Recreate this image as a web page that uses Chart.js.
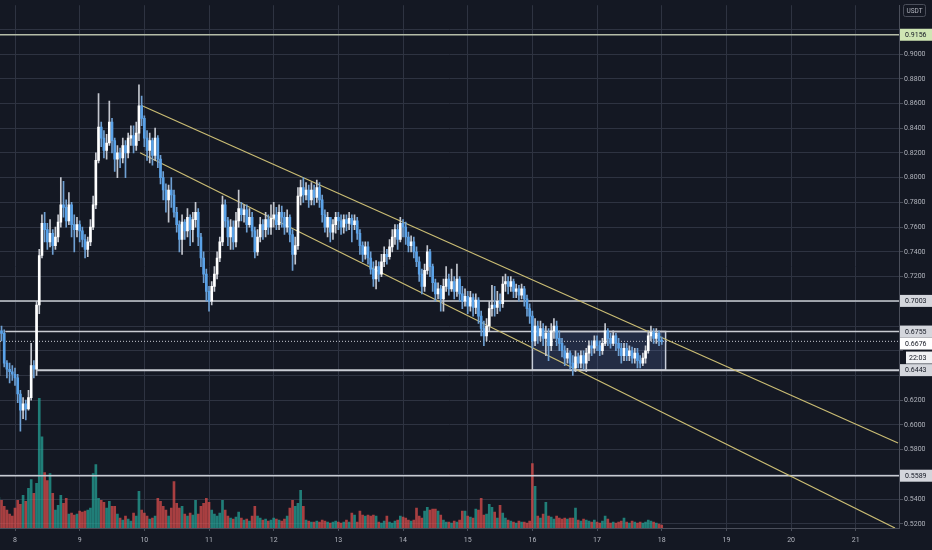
<!DOCTYPE html>
<html>
<head>
<meta charset="utf-8">
<script src="https://cdn.jsdelivr.net/npm/chart.js@4.4.1/dist/chart.umd.min.js"></script>
<style>
  html, body { margin: 0; padding: 0; background: #141823; }
  #wrap { width: 932px; height: 550px; position: relative; }
</style>
</head>
<body>
<div id="wrap"><canvas id="chart"></canvas></div>
<script>
// hourly candles, first one at day 7 18:00 (x axis = day of month)
const firstCandleDay = 7.75;
const firstOpen = 0.640;

const closes = [
  0.676,0.674,0.650,0.645,0.643,0.641,0.638,0.625,0.612,0.617,
  0.613,0.622,0.648,0.645,0.697,0.737,0.763,0.758,0.748,0.755,
  0.745,0.752,0.764,0.778,0.776,0.765,0.778,0.762,0.758,0.762,
  0.757,0.750,0.742,0.748,0.760,0.778,0.814,0.841,0.832,0.822,
  0.828,0.845,0.830,0.815,0.820,0.816,0.826,0.820,0.832,0.834,
  0.826,0.836,0.858,0.848,0.832,0.822,0.830,0.818,0.832,0.815,
  0.800,0.790,0.782,0.790,0.786,0.772,0.762,0.750,0.764,0.757,
  0.768,0.758,0.766,0.772,0.752,0.735,0.722,0.708,0.700,0.712,
  0.722,0.735,0.748,0.778,0.765,0.752,0.760,0.748,0.765,0.775,
  0.770,0.774,0.762,0.768,0.757,0.740,0.752,0.762,0.758,0.766,
  0.760,0.767,0.770,0.762,0.772,0.768,0.760,0.768,0.754,0.738,
  0.745,0.785,0.792,0.786,0.790,0.782,0.790,0.784,0.792,0.782,
  0.770,0.760,0.768,0.756,0.762,0.768,0.765,0.760,0.766,0.763,
  0.767,0.762,0.765,0.755,0.745,0.738,0.744,0.735,0.726,0.718,
  0.728,0.722,0.732,0.738,0.736,0.744,0.752,0.758,0.750,0.763,
  0.760,0.752,0.745,0.748,0.740,0.732,0.722,0.712,0.725,0.740,
  0.728,0.715,0.706,0.710,0.702,0.712,0.718,0.710,0.716,0.708,
  0.718,0.706,0.700,0.704,0.696,0.703,0.695,0.701,0.688,0.678,
  0.672,0.680,0.694,0.697,0.695,0.700,0.698,0.714,0.716,0.712,
  0.716,0.708,0.710,0.705,0.710,0.702,0.694,0.688,0.668,0.680,
  0.672,0.678,0.670,0.674,0.664,0.676,0.680,0.670,0.666,0.660,
  0.654,0.658,0.650,0.646,0.655,0.650,0.656,0.650,0.658,0.664,
  0.662,0.668,0.664,0.660,0.666,0.676,0.670,0.666,0.672,0.666,
  0.662,0.656,0.662,0.656,0.660,0.654,0.658,0.652,0.650,0.654,
  0.660,0.672,0.675,0.670,0.674,0.668,0.6676
];
const highs = [
  0.684,0.680,0.677,0.652,0.650,0.648,0.646,0.641,0.628,0.622,
  0.620,0.628,0.666,0.652,0.700,0.742,0.770,0.772,0.763,0.766,
  0.758,0.760,0.770,0.800,0.797,0.782,0.788,0.780,0.770,0.768,
  0.765,0.760,0.754,0.752,0.766,0.785,0.820,0.868,0.845,0.838,
  0.835,0.862,0.848,0.832,0.826,0.824,0.832,0.830,0.836,0.842,
  0.842,0.845,0.875,0.866,0.850,0.838,0.836,0.832,0.840,0.834,
  0.818,0.805,0.795,0.794,0.800,0.790,0.776,0.765,0.770,0.766,
  0.775,0.770,0.772,0.780,0.775,0.755,0.740,0.726,0.712,0.716,
  0.728,0.740,0.752,0.785,0.782,0.768,0.766,0.765,0.772,0.790,
  0.780,0.778,0.778,0.775,0.772,0.760,0.758,0.768,0.766,0.772,
  0.770,0.778,0.780,0.776,0.778,0.777,0.772,0.774,0.770,0.758,
  0.752,0.792,0.798,0.800,0.796,0.794,0.796,0.794,0.798,0.796,
  0.786,0.774,0.772,0.768,0.766,0.772,0.772,0.770,0.770,0.770,
  0.772,0.770,0.770,0.768,0.758,0.748,0.748,0.748,0.740,0.732,
  0.733,0.732,0.738,0.744,0.742,0.750,0.758,0.762,0.762,0.768,
  0.766,0.764,0.756,0.753,0.752,0.744,0.736,0.726,0.730,0.745,
  0.742,0.730,0.718,0.715,0.713,0.718,0.728,0.722,0.726,0.720,
  0.730,0.720,0.712,0.710,0.708,0.708,0.706,0.706,0.703,0.692,
  0.684,0.686,0.700,0.713,0.712,0.708,0.706,0.720,0.722,0.720,
  0.720,0.718,0.714,0.713,0.714,0.712,0.705,0.698,0.692,0.686,
  0.684,0.684,0.682,0.680,0.678,0.682,0.686,0.684,0.676,0.670,
  0.664,0.662,0.660,0.656,0.660,0.658,0.660,0.660,0.662,0.668,
  0.668,0.672,0.672,0.668,0.670,0.682,0.678,0.674,0.676,0.674,
  0.670,0.666,0.666,0.666,0.664,0.663,0.662,0.662,0.656,0.658,
  0.664,0.676,0.680,0.678,0.678,0.676,0.671
];
const lows = [
  0.630,0.668,0.647,0.638,0.634,0.636,0.632,0.618,0.595,0.605,
  0.604,0.612,0.620,0.638,0.640,0.690,0.735,0.748,0.742,0.744,
  0.738,0.742,0.748,0.760,0.768,0.760,0.762,0.752,0.740,0.752,
  0.748,0.744,0.735,0.736,0.745,0.758,0.775,0.812,0.825,0.816,
  0.815,0.826,0.820,0.805,0.800,0.808,0.812,0.800,0.816,0.826,
  0.820,0.822,0.830,0.842,0.825,0.814,0.812,0.810,0.814,0.808,
  0.795,0.782,0.772,0.764,0.776,0.768,0.756,0.740,0.738,0.750,
  0.752,0.745,0.748,0.760,0.745,0.728,0.715,0.700,0.692,0.697,
  0.708,0.718,0.732,0.745,0.760,0.745,0.742,0.742,0.744,0.760,
  0.765,0.764,0.756,0.760,0.752,0.735,0.737,0.748,0.750,0.752,
  0.754,0.754,0.760,0.758,0.758,0.760,0.754,0.756,0.748,0.725,
  0.730,0.742,0.778,0.780,0.782,0.776,0.778,0.778,0.780,0.776,
  0.764,0.756,0.752,0.748,0.750,0.755,0.758,0.754,0.755,0.757,
  0.758,0.748,0.758,0.750,0.738,0.732,0.734,0.730,0.722,0.712,
  0.710,0.716,0.720,0.728,0.730,0.734,0.740,0.746,0.742,0.748,
  0.752,0.746,0.740,0.740,0.735,0.728,0.716,0.706,0.708,0.722,
  0.720,0.708,0.700,0.702,0.692,0.692,0.708,0.705,0.708,0.702,
  0.704,0.700,0.694,0.696,0.690,0.692,0.688,0.690,0.682,0.672,
  0.664,0.668,0.676,0.688,0.688,0.690,0.692,0.695,0.708,0.706,
  0.708,0.703,0.703,0.700,0.702,0.696,0.688,0.682,0.662,0.664,
  0.666,0.668,0.664,0.656,0.652,0.660,0.670,0.664,0.660,0.655,
  0.648,0.650,0.645,0.640,0.643,0.646,0.646,0.645,0.643,0.652,
  0.656,0.658,0.660,0.656,0.657,0.664,0.664,0.662,0.664,0.660,
  0.656,0.650,0.652,0.652,0.652,0.650,0.650,0.646,0.646,0.648,
  0.650,0.658,0.668,0.666,0.666,0.664,0.665
];
// volume, thousands
const volumes = [
  31,28,22,18,14,12,20,28,24,33, 27,40,49,35,45,131,92,56,48,55,
  35,18,23,33,25,30,14,15,13,14, 17,16,17,18,20,55,64,30,28,26,
  20,27,22,22,14,10,8,12,9,7, 15,12,37,18,15,12,9,10,12,30,
  27,22,18,12,20,47,25,20,22,14, 12,15,13,28,14,22,25,30,26,18,
  14,12,15,28,18,12,10,9,11,16, 10,8,9,7,12,22,12,10,8,9,
  7,8,10,9,8,7,9,12,20,28, 22,25,38,22,8,7,6,6,7,6,
  8,7,6,5,6,7,6,5,6,8, 6,15,13,6,17,13,12,13,12,13,
  12,6,5,7,12,6,5,7,8,12, 11,10,8,7,8,20,12,10,17,21,
  18,19,19,17,13,8,6,6,5,7, 6,8,17,17,12,11,10,19,18,30,
  13,14,24,21,16,10,23,15,10,8, 7,6,5,7,6,6,5,7,65,42,
  12,10,14,26,12,11,9,12,10,9, 10,9,10,10,20,8,7,9,8,7,
  6,8,6,5,7,12,9,5,6,5, 6,7,10,6,5,7,6,5,6,5,
  6,8,7,6,5,4,3
];

// drawn levels and lines
const levelPrices = [0.9156, 0.7003, 0.6755, 0.6443, 0.5589];
const levelStartDays = [7.768, 7.768, 7.85, 8.34, 7.768];
const upperTrend = [{x: 9.948, y: 0.8586}, {x: 21.654, y: 0.5854}];
const lowerTrend = [{x: 9.933, y: 0.8201}, {x: 21.607, y: 0.5166}];
const rangeBox = {from: 16.0, to: 18.06, top: 0.6755, bottom: 0.6443};
const countdown = '22:03';

const xMin = 7.768, xMax = 21.669;
const yMin = 0.5166, yMax = 0.9395;
const volMax = 528;

const opens = [firstOpen, ...closes.slice(0, -1)];
const times = closes.map((_, i) => firstCandleDay + i / 24);
const lastPrice = closes[closes.length - 1];
const isUp = i => closes[i] >= opens[i];

const FONT = 'Roboto, "Open Sans", sans-serif';
const TXT = '#b2b5be';
const GRID = '#2e3341';

const bodies = closes.map((c, i) => ({x: times[i], y: [opens[i], c]}));
const wicks = closes.map((c, i) => ({x: times[i], y: [Math.min(lows[i], opens[i], c), Math.max(highs[i], opens[i], c)]}));
const volBars = volumes.map((v, i) => ({x: times[i], y: v}));

const levelSets = levelPrices.map((p, k) => ({
  type: 'line',
  data: [{x: levelStartDays[k], y: p}, {x: 22, y: p}],
  borderColor: k === 0 ? '#b6bda8' : '#c9ccd3',
  borderWidth: k === 3 ? 2 : 1.5,
  pointRadius: 0, order: 5
}));

const bgPlugin = {
  id: 'bg',
  beforeDraw(chart) {
    const c = chart.ctx;
    c.save();
    c.fillStyle = '#141823';
    c.fillRect(0, 0, chart.width, chart.height);
    c.restore();
  }
};

const labelPlugin = {
  id: 'priceLabels',
  afterDraw(chart) {
    const {ctx, chartArea} = chart;
    const ys = chart.scales.y;
    const x0 = chartArea.right + 1;
    const w = chart.width - x0;
    const h = 12;
    const boxes = levelPrices.map((p, k) => ({
      text: p.toFixed(4), y: ys.getPixelForValue(p),
      bg: k === 0 ? '#cfe6b4' : '#d4d6dc'
    }));
    boxes.push({text: lastPrice.toFixed(4), y: ys.getPixelForValue(lastPrice), bg: '#ffffff', timer: true});
    boxes.sort((a, b) => a.y - b.y);
    let prevBottom = -100;
    ctx.save();
    ctx.font = '7px ' + FONT;
    ctx.textBaseline = 'middle';
    boxes.forEach(b => {
      if (b.y - h / 2 < prevBottom) b.y = prevBottom + h / 2;
      ctx.fillStyle = b.bg;
      ctx.fillRect(x0, b.y - h / 2, w, h);
      ctx.fillStyle = '#131722';
      ctx.fillText(b.text, x0 + 5, b.y + 0.5);
      prevBottom = b.y + h / 2;
      if (b.timer) {
        const ty = prevBottom + 2;
        ctx.fillStyle = '#f0f1f4';
        ctx.fillRect(x0 + 6, ty, w - 6, h);
        ctx.fillStyle = '#131722';
        ctx.fillText(countdown, x0 + 9, ty + h / 2 + 0.5);
        prevBottom = ty + h;
      }
    });
    // currency tag
    ctx.strokeStyle = '#4a4e5a';
    ctx.lineWidth = 1;
    ctx.beginPath();
    ctx.roundRect(903.5, 4.5, 22, 12, 2);
    ctx.stroke();
    ctx.fillStyle = TXT;
    ctx.font = '6.5px ' + FONT;
    ctx.textAlign = 'center';
    ctx.fillText('USDT', 914.5, 11);
    ctx.restore();
  }
};

const hiddenNear = [...levelPrices, lastPrice];

new Chart(document.getElementById('chart'), {
  type: 'bar',
  data: {
    datasets: [
      {
        label: 'body', data: bodies, order: 0, grouped: false,
        barThickness: 2, minBarLength: 1, borderWidth: 0,
        backgroundColor: ctx => isUp(ctx.dataIndex) ? '#ffffff' : '#5aa2e8'
      },
      {
        label: 'wick', data: wicks, order: 1, grouped: false,
        barThickness: 1, borderWidth: 0,
        backgroundColor: ctx => isUp(ctx.dataIndex) ? '#c4c7cf' : '#6e9fd2'
      },
      {type: 'line', data: upperTrend, borderColor: '#cbbd74', borderWidth: 1.2, pointRadius: 0, order: 2},
      {type: 'line', data: lowerTrend, borderColor: '#cbbd74', borderWidth: 1.2, pointRadius: 0, order: 2},
      {
        type: 'line', data: [{x: xMin, y: lastPrice}, {x: 22, y: lastPrice}],
        borderColor: '#c9ccd3', borderWidth: 1, borderDash: [1, 2], pointRadius: 0, order: 3
      },
      ...levelSets,
      {
        type: 'line',
        data: [{x: rangeBox.from, y: rangeBox.top}, {x: rangeBox.to, y: rangeBox.top}],
        borderWidth: 0, pointRadius: 0, order: 7,
        fill: {value: rangeBox.bottom}, backgroundColor: 'rgba(110,150,230,0.17)'
      },
      {
        type: 'line',
        data: [
          {x: rangeBox.from, y: rangeBox.top}, {x: rangeBox.to, y: rangeBox.top},
          {x: rangeBox.to, y: rangeBox.bottom}, {x: rangeBox.from, y: rangeBox.bottom},
          {x: rangeBox.from, y: rangeBox.top}
        ],
        borderColor: '#c6ccd8', borderWidth: 1.5, pointRadius: 0, order: 6
      },
      {
        label: 'volume', data: volBars, yAxisID: 'v', order: 8, grouped: false,
        barThickness: 2, borderWidth: 0,
        backgroundColor: ctx => isUp(ctx.dataIndex) ? 'rgba(38,166,154,0.72)' : 'rgba(239,83,80,0.68)'
      }
    ]
  },
  options: {
    responsive: true,
    maintainAspectRatio: false,
    animation: false,
    events: [],
    layout: {padding: 0},
    plugins: {legend: {display: false}, tooltip: {enabled: false}},
    scales: {
      x: {
        type: 'linear', min: xMin, max: xMax, offset: false,
        grid: {color: GRID, offset: false, drawTicks: true, tickLength: 3, tickColor: '#4a4e5a'},
        border: {color: '#4a4e5a'},
        ticks: {
          stepSize: 1, includeBounds: false, autoSkip: false, maxRotation: 0,
          color: TXT, font: {family: FONT, size: 7}, padding: 5,
          callback: v => String(v)
        },
        afterFit: s => { s.height = 22; }
      },
      y: {
        type: 'linear', position: 'right', min: yMin, max: yMax,
        grid: {color: GRID, drawTicks: true, tickLength: 4, tickColor: '#4a4e5a'},
        border: {color: '#4a4e5a'},
        ticks: {
          stepSize: 0.02, includeBounds: false,
          color: TXT, font: {family: FONT, size: 7}, padding: 1,
          callback: v => hiddenNear.some(p => Math.abs(p - v) < 0.008) ? '' : v.toFixed(4)
        },
        afterFit: s => { s.width = 33; }
      },
      v: {type: 'linear', display: false, min: 0, max: volMax}
    }
  },
  plugins: [bgPlugin, labelPlugin]
});
</script>
</body>
</html>
